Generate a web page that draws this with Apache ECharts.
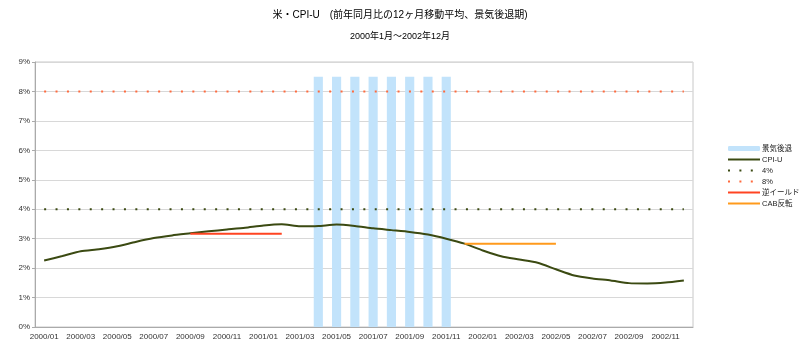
<!DOCTYPE html>
<html>
<head>
<meta charset="utf-8">
<script src="https://cdn.jsdelivr.net/npm/echarts@6/dist/echarts.min.js"></script>
<style>
  html, body { margin: 0; padding: 0; background: #fff; }
  #chart { width: 800px; height: 351px; }
</style>
</head>
<body>
<div id="chart"></div>
<script>
// 月（2000/01〜2002/12）
var months = [
  '2000/01','2000/02','2000/03','2000/04','2000/05','2000/06','2000/07','2000/08','2000/09','2000/10','2000/11','2000/12',
  '2001/01','2001/02','2001/03','2001/04','2001/05','2001/06','2001/07','2001/08','2001/09','2001/10','2001/11','2001/12',
  '2002/01','2002/02','2002/03','2002/04','2002/05','2002/06','2002/07','2002/08','2002/09','2002/10','2002/11','2002/12'
];
// CPI-U 前年同月比の12ヶ月移動平均（%）
var cpiU = [
  2.26, 2.41, 2.57, 2.64, 2.74, 2.89, 3.02, 3.11, 3.18, 3.25, 3.31, 3.37,
  3.45, 3.49, 3.42, 3.43, 3.48, 3.43, 3.35, 3.29, 3.23, 3.14, 3.00, 2.83,
  2.60, 2.40, 2.29, 2.18, 1.96, 1.75, 1.65, 1.58, 1.49, 1.48, 1.51, 1.58
];
// 景気後退期 2001/04〜2001/11
var recession = [
  null, null, null, null, null, null, null, null, null, null, null, null,
  null, null, null, 8.5, 8.5, 8.5, 8.5, 8.5, 8.5, 8.5, 8.5, null,
  null, null, null, null, null, null, null, null, null, null, null, null
];
var line4 = months.map(function () { return 4; });
var line8 = months.map(function () { return 8; });
// 逆イールド 2000/09〜2001/02
var inverted = [
  null, null, null, null, null, null, null, null, 3.17, 3.17, 3.17, 3.17,
  3.17, 3.17, null, null, null, null, null, null, null, null, null, null,
  null, null, null, null, null, null, null, null, null, null, null, null
];
// CAB反転 2001/12〜2002/05
var cabTurn = [
  null, null, null, null, null, null, null, null, null, null, null, null,
  null, null, null, null, null, null, null, null, null, null, null, 2.83,
  2.83, 2.83, 2.83, 2.83, 2.83, null, null, null, null, null, null, null
];
var yTicks = [0, 1, 2, 3, 4, 5, 6, 7, 8, 9];

var FONT = '"Liberation Sans", Arial, "Noto Sans CJK JP", sans-serif';
var noSymbol = { opacity: 0 };  // 凡例の点を消す

var myChart = echarts.init(document.getElementById('chart'));
myChart.setOption({
  animation: false,
  textStyle: { fontFamily: FONT },
  title: {
    text: '米・CPI-U　(前年同月比の12ヶ月移動平均、景気後退期)',
    subtext: '2000年1月～2002年12月',
    left: 'center',
    top: 5,
    itemGap: 12,
    textStyle: { fontSize: 10, fontWeight: 'normal', color: '#000', fontFamily: FONT },
    subtextStyle: { fontSize: 9, color: '#000', fontFamily: FONT }
  },
  legend: {
    orient: 'vertical',
    left: 727,
    top: 143,
    itemWidth: 32,
    itemHeight: 5,
    itemGap: 0,
    padding: 0,
    textStyle: { fontSize: 7.5, color: '#222', lineHeight: 11, padding: [0, 0, 0, -3] },
    data: [
      { name: '景気後退' },
      { name: 'CPI-U', itemStyle: noSymbol },
      { name: '4%', itemStyle: noSymbol },
      { name: '8%', itemStyle: noSymbol },
      { name: '逆イールド', itemStyle: noSymbol },
      { name: 'CAB反転', itemStyle: noSymbol }
    ]
  },
  grid: {
    left: 35, right: 107, top: 62, bottom: 24,
    show: true, borderColor: '#c8c8c8', borderWidth: 1
  },
  xAxis: {
    type: 'category',
    data: months,
    boundaryGap: true,
    axisLine: { lineStyle: { color: '#aaa' } },
    axisTick: { interval: 1, length: 4, lineStyle: { color: '#aaa' } },
    axisLabel: { interval: 1, fontSize: 8, color: '#333', margin: 6 }
  },
  yAxis: {
    type: 'value',
    min: 0, max: 9, interval: 1,
    axisLine: { show: true, lineStyle: { color: '#aaa' } },
    axisTick: { show: true, length: 3, lineStyle: { color: '#aaa' } },
    axisLabel: { fontSize: 8, color: '#333', margin: 5,
      formatter: function (v) { return yTicks.indexOf(v) >= 0 ? v + '%' : ''; } },
    splitLine: { lineStyle: { color: '#d8d8d8' } }
  },
  series: [
    {
      name: '景気後退', type: 'bar', data: recession, barWidth: '50%',
      itemStyle: { color: '#c2e3fb' }
    },
    {
      name: 'CPI-U', type: 'line', data: cpiU, symbol: 'none', smooth: 0.2,
      lineStyle: { color: '#3b4a12', width: 2 }, itemStyle: { color: '#3b4a12' }
    },
    {
      name: '4%', type: 'line', data: line4, symbol: 'none',
      lineStyle: { color: '#3b4a12', width: 2, type: [2, 9.4] }, itemStyle: { color: '#3b4a12' }
    },
    {
      name: '8%', type: 'line', data: line8, symbol: 'none',
      lineStyle: { color: '#ff6a3d', width: 2, type: [2, 9.4] }, itemStyle: { color: '#ff6a3d' }
    },
    {
      name: '逆イールド', type: 'line', data: inverted, symbol: 'none',
      lineStyle: { color: '#ff4422', width: 2 }, itemStyle: { color: '#ff4422' }
    },
    {
      name: 'CAB反転', type: 'line', data: cabTurn, symbol: 'none',
      lineStyle: { color: '#ff9a1c', width: 2 }, itemStyle: { color: '#ff9a1c' }
    }
  ]
});
</script>
</body>
</html>
